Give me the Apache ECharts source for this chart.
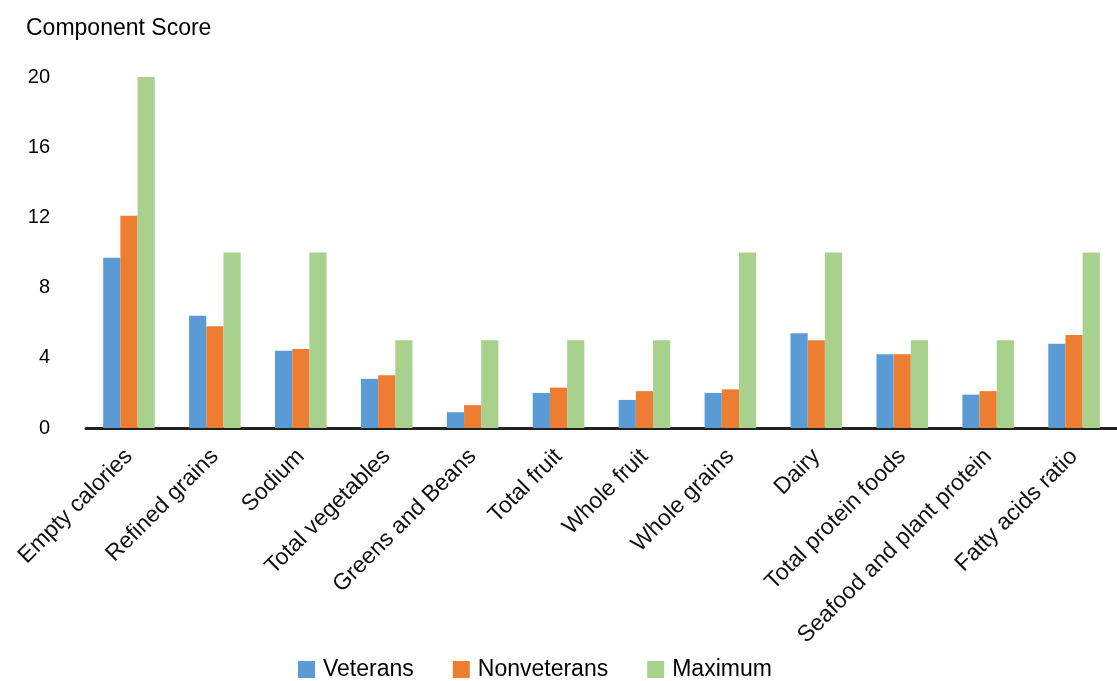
<!DOCTYPE html>
<html>
<head>
<meta charset="utf-8">
<script src="https://cdn.jsdelivr.net/npm/echarts@6/dist/echarts.min.js"></script>
<style>
  html, body { margin: 0; padding: 0; background: #fff; }
  #chart { width: 1117px; height: 681px; }
</style>
</head>
<body>
<div id="chart"></div>
<script>
const categories = [
  'Empty calories', 'Refined grains', 'Sodium', 'Total vegetables',
  'Greens and Beans', 'Total fruit', 'Whole fruit', 'Whole grains',
  'Dairy', 'Total protein foods', 'Seafood and plant protein', 'Fatty acids ratio'
]
const veterans = [9.7, 6.4, 4.4, 2.8, 0.9, 2.0, 1.6, 2.0, 5.4, 4.2, 1.9, 4.8]
const nonveterans = [12.1, 5.8, 4.5, 3.0, 1.3, 2.3, 2.1, 2.2, 5.0, 4.2, 2.1, 5.3]
const maximum = [20, 10, 10, 5, 5, 5, 5, 10, 10, 5, 5, 10]
const yTicks = { min: 0, max: 20, interval: 4 }

const font = 'Liberation Sans, Arial, Helvetica, sans-serif'

const chart = echarts.init(document.getElementById('chart'))

const bar = (name, data, color) => ({
  name,
  type: 'bar',
  data,
  barGap: '0%',
  barCategoryGap: '40%',
  itemStyle: { color }
})

chart.setOption({
  animation: false,
  textStyle: { fontFamily: font },
  title: {
    text: 'Component Score',
    left: 21,
    top: 12,
    textStyle: { fontSize: 23, fontWeight: 'normal', color: '#000', fontFamily: font }
  },
  legend: {
    data: ['Veterans', 'Nonveterans', 'Maximum'],
    left: 293,
    top: 653,
    icon: 'rect',
    itemWidth: 17,
    itemHeight: 17,
    itemGap: 39,
    textStyle: { fontSize: 23, color: '#000', fontFamily: font, padding: [0, 0, 0, 3] }
  },
  grid: { left: 86, right: 0, top: 77, bottom: 253, containLabel: false },
  xAxis: {
    type: 'category',
    data: categories,
    axisLine: { lineStyle: { color: '#222', width: 3 } },
    axisTick: { show: false },
    axisLabel: {
      rotate: 45,
      interval: 0,
      fontSize: 23,
      color: '#111',
      margin: 25,
      fontFamily: font
    }
  },
  yAxis: {
    type: 'value',
    min: yTicks.min,
    max: yTicks.max,
    interval: yTicks.interval,
    axisLine: { show: false },
    axisTick: { show: false },
    splitLine: { show: false },
    axisLabel: { fontSize: 20, color: '#000', margin: 36, fontFamily: font }
  },
  series: [
    bar('Veterans', veterans, '#5B9BD5'),
    bar('Nonveterans', nonveterans, '#ED7D31'),
    bar('Maximum', maximum, '#A9D18E')
  ]
})
</script>
</body>
</html>
